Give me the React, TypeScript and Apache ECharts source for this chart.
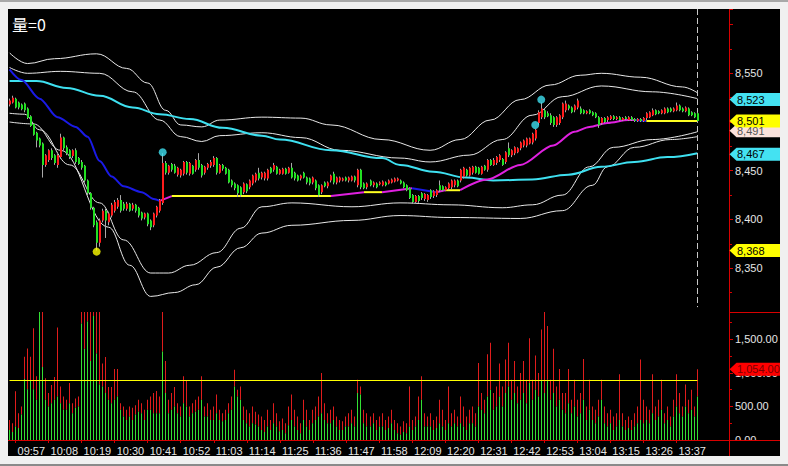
import React, { useEffect, useRef } from 'react';
import * as echarts from 'echarts';

// ---------- categories (one slot per minute) ----------
const startMinute = 9 * 60 + 55;
const slotCount = 240;
const categories: string[] = [];
for (let k = 0; k < slotCount; k++) {
  const t = startMinute + k;
  categories.push(String(Math.floor(t / 60)).padStart(2, '0') + ':' + String(t % 60).padStart(2, '0'));
}
const timeTickLabels = ['09:57', '10:08', '10:19', '10:30', '10:41', '10:52', '11:03', '11:14', '11:25', '11:36', '11:47', '11:58', '12:09', '12:20', '12:31', '12:42', '12:53', '13:04', '13:15', '13:26', '13:37'];
const priceTickLabels = [8350, 8400, 8450, 8550];

// ---------- candles [open, close, low, high] ----------
const candles = [
  [8518, 8522, 8516, 8524], [8520, 8525, 8519, 8527], [8524, 8515, 8514, 8525], [8520, 8515, 8513, 8521], [8518, 8513, 8512, 8519],
  [8519, 8512, 8510, 8520], [8514, 8504, 8503, 8515], [8506, 8496, 8495, 8507], [8498, 8487, 8486, 8499], [8489, 8481, 8474, 8490],
  [8483, 8476, 8474, 8484], [8478, 8456, 8443, 8479], [8456, 8466, 8454, 8467], [8461, 8471, 8459, 8472], [8471, 8463, 8461, 8473],
  [8466, 8458, 8456, 8467], [8456, 8466, 8453, 8467], [8464, 8484, 8462, 8488], [8484, 8473, 8471, 8485], [8474, 8468, 8466, 8476],
  [8471, 8464, 8462, 8472], [8465, 8471, 8463, 8472], [8471, 8459, 8457, 8473], [8463, 8457, 8456, 8464], [8459, 8453, 8451, 8461],
  [8455, 8440, 8438, 8456], [8440, 8427, 8425, 8441], [8427, 8412, 8410, 8428], [8412, 8394, 8392, 8413], [8397, 8376, 8368, 8399],
  [8376, 8399, 8372, 8401], [8399, 8409, 8397, 8411], [8409, 8399, 8381, 8411], [8397, 8406, 8394, 8408], [8404, 8415, 8402, 8417],
  [8409, 8418, 8407, 8420], [8413, 8420, 8411, 8422], [8420, 8409, 8407, 8425], [8416, 8411, 8409, 8418], [8411, 8416, 8409, 8418],
  [8416, 8409, 8408, 8417], [8411, 8415, 8409, 8417], [8415, 8409, 8407, 8416], [8412, 8404, 8402, 8413], [8407, 8401, 8399, 8408],
  [8402, 8406, 8400, 8407], [8406, 8395, 8393, 8407], [8399, 8392, 8389, 8400], [8394, 8406, 8392, 8407], [8404, 8413, 8402, 8414],
  [8409, 8420, 8407, 8421], [8417, 8458, 8415, 8468], [8458, 8448, 8446, 8460], [8448, 8455, 8446, 8456], [8457, 8451, 8449, 8458],
  [8455, 8448, 8447, 8457], [8446, 8453, 8444, 8454], [8445, 8451, 8443, 8452], [8447, 8459, 8445, 8460], [8459, 8448, 8446, 8460],
  [8447, 8458, 8445, 8459], [8455, 8447, 8446, 8456], [8451, 8461, 8449, 8462], [8461, 8453, 8451, 8468], [8456, 8445, 8443, 8457],
  [8448, 8454, 8446, 8455], [8453, 8457, 8451, 8458], [8455, 8459, 8453, 8461], [8456, 8463, 8454, 8465], [8463, 8448, 8446, 8464],
  [8448, 8456, 8447, 8457], [8456, 8452, 8450, 8457], [8453, 8447, 8446, 8454], [8451, 8438, 8437, 8452], [8440, 8435, 8433, 8441],
  [8437, 8432, 8430, 8438], [8435, 8427, 8423, 8436], [8433, 8425, 8423, 8434], [8428, 8437, 8426, 8438], [8436, 8429, 8427, 8437],
  [8433, 8440, 8431, 8441], [8437, 8445, 8435, 8446], [8440, 8447, 8438, 8448], [8448, 8442, 8440, 8453], [8443, 8448, 8441, 8449],
  [8442, 8448, 8440, 8449], [8442, 8451, 8440, 8452], [8453, 8448, 8447, 8454], [8451, 8456, 8449, 8458], [8454, 8447, 8446, 8455],
  [8447, 8451, 8446, 8452], [8447, 8452, 8446, 8453], [8452, 8447, 8446, 8453], [8448, 8453, 8447, 8454], [8453, 8443, 8442, 8458],
  [8448, 8442, 8440, 8449], [8445, 8440, 8439, 8446], [8442, 8445, 8440, 8446], [8448, 8443, 8442, 8449], [8443, 8438, 8436, 8444],
  [8442, 8437, 8435, 8443], [8438, 8443, 8436, 8444], [8440, 8432, 8430, 8441], [8435, 8425, 8423, 8436], [8428, 8435, 8426, 8436],
  [8438, 8434, 8433, 8439], [8434, 8438, 8432, 8439], [8440, 8445, 8438, 8446], [8447, 8438, 8436, 8449], [8438, 8443, 8436, 8444],
  [8440, 8443, 8438, 8444], [8440, 8442, 8439, 8443], [8443, 8440, 8439, 8444], [8440, 8443, 8438, 8444], [8440, 8444, 8439, 8445],
  [8444, 8440, 8438, 8445], [8435, 8451, 8433, 8452], [8451, 8433, 8431, 8452], [8437, 8432, 8431, 8438], [8433, 8437, 8431, 8438],
  [8440, 8435, 8434, 8441], [8435, 8438, 8433, 8439], [8437, 8433, 8432, 8438], [8436, 8438, 8435, 8439], [8435, 8439, 8434, 8440],
  [8438, 8435, 8434, 8439], [8437, 8440, 8436, 8441], [8438, 8441, 8437, 8442], [8439, 8442, 8438, 8443], [8440, 8442, 8439, 8443],
  [8440, 8437, 8436, 8441], [8438, 8433, 8432, 8439], [8435, 8430, 8429, 8436], [8432, 8422, 8421, 8433], [8425, 8418, 8416, 8426],
  [8418, 8424, 8416, 8425], [8424, 8419, 8417, 8425], [8427, 8422, 8420, 8428], [8421, 8426, 8419, 8427], [8420, 8425, 8418, 8426],
  [8430, 8423, 8421, 8431], [8424, 8429, 8422, 8430], [8425, 8430, 8423, 8431], [8435, 8430, 8428, 8440], [8434, 8430, 8429, 8435],
  [8430, 8433, 8429, 8434], [8432, 8437, 8430, 8438], [8433, 8440, 8431, 8441], [8435, 8440, 8433, 8441], [8440, 8434, 8433, 8441],
  [8440, 8451, 8438, 8452], [8444, 8453, 8442, 8454], [8451, 8445, 8444, 8452], [8445, 8453, 8444, 8454], [8448, 8454, 8446, 8455],
  [8454, 8448, 8447, 8455], [8453, 8447, 8446, 8454], [8447, 8454, 8446, 8455], [8455, 8451, 8450, 8456], [8451, 8461, 8449, 8462],
  [8461, 8456, 8455, 8462], [8456, 8461, 8455, 8463], [8458, 8464, 8456, 8465], [8461, 8466, 8459, 8467], [8462, 8456, 8455, 8463],
  [8459, 8469, 8457, 8470], [8473, 8466, 8464, 8479], [8466, 8471, 8464, 8472], [8468, 8474, 8466, 8475], [8469, 8473, 8468, 8474],
  [8473, 8479, 8471, 8480], [8476, 8481, 8474, 8482], [8476, 8483, 8474, 8484], [8478, 8483, 8477, 8484], [8479, 8488, 8477, 8489],
  [8483, 8492, 8481, 8493], [8499, 8510, 8497, 8512], [8505, 8514, 8503, 8520], [8512, 8505, 8503, 8514], [8509, 8506, 8505, 8511],
  [8507, 8499, 8497, 8509], [8505, 8497, 8495, 8506], [8497, 8505, 8495, 8506], [8499, 8507, 8497, 8508], [8505, 8519, 8503, 8520],
  [8512, 8519, 8510, 8522], [8517, 8514, 8512, 8518], [8515, 8510, 8509, 8516], [8512, 8517, 8510, 8518], [8515, 8522, 8513, 8524],
  [8514, 8509, 8508, 8516], [8512, 8509, 8508, 8513], [8509, 8511, 8508, 8512], [8512, 8509, 8508, 8513], [8510, 8507, 8506, 8511],
  [8509, 8505, 8504, 8510], [8505, 8497, 8494, 8506], [8499, 8504, 8497, 8505], [8504, 8500, 8499, 8505], [8502, 8505, 8500, 8506],
  [8503, 8506, 8502, 8507], [8506, 8503, 8502, 8507], [8503, 8505, 8502, 8506], [8505, 8502, 8501, 8506], [8502, 8504, 8501, 8505],
  [8505, 8503, 8502, 8506], [8502, 8505, 8501, 8506], [8505, 8502, 8501, 8506], [8503, 8501, 8500, 8504], [8501, 8503, 8500, 8504],
  [8503, 8501, 8500, 8504], [8501, 8504, 8500, 8505], [8504, 8509, 8502, 8510], [8505, 8510, 8504, 8511], [8507, 8512, 8506, 8514],
  [8512, 8508, 8507, 8513], [8511, 8509, 8508, 8512], [8509, 8512, 8508, 8513], [8509, 8514, 8508, 8515], [8514, 8510, 8509, 8515],
  [8514, 8511, 8510, 8515], [8511, 8514, 8510, 8515], [8512, 8517, 8511, 8520], [8517, 8512, 8511, 8518], [8514, 8511, 8510, 8515],
  [8511, 8515, 8510, 8516], [8514, 8507, 8506, 8515], [8510, 8507, 8506, 8511], [8509, 8505, 8504, 8510], [8509, 8501, 8499, 8510],
];

// ---------- volume (total and the green lower part) ----------
const volTotal = [
  300, 250, 727, 400, 500, 1242, 1364, 1242, 1667, 950,
  2000, 2000, 920, 700, 820, 940, 1680, 800, 650, 600,
  850, 550, 620, 650, 2000, 2000, 2000, 2000, 2000, 2000,
  2000, 1140, 1240, 790, 790, 1060, 1060, 550, 500, 450,
  500, 480, 520, 600, 550, 450, 600, 650, 700, 730,
  650, 2000, 1180, 600, 700, 790, 550, 500, 950, 880,
  500, 550, 600, 650, 950, 500, 550, 450, 500, 680,
  450, 400, 450, 550, 650, 1050, 750, 800, 500, 450,
  400, 500, 420, 380, 350, 300, 450, 300, 550, 400,
  280, 320, 250, 500, 680, 450, 350, 250, 600, 450,
  300, 450, 500, 650, 1000, 550, 400, 450, 500, 350,
  300, 280, 350, 400, 450, 350, 900, 800, 450, 400,
  350, 400, 300, 350, 400, 300, 350, 450, 300, 250,
  200, 280, 250, 800, 300, 350, 650, 950, 400, 350,
  400, 300, 350, 600, 450, 300, 800, 400, 450, 350,
  650, 500, 350, 450, 500, 400, 1150, 700, 600, 1280,
  1450, 700, 800, 1140, 800, 1200, 1450, 900, 1180, 800,
  1000, 1180, 900, 1520, 900, 1260, 1000, 1650, 2000, 1700,
  900, 1360, 800, 1060, 700, 700, 1060, 600, 900, 600,
  700, 1210, 500, 900, 500, 450, 600, 900, 500, 400,
  450, 350, 400, 980, 400, 300, 350, 300, 400, 500,
  1200, 600, 500, 450, 980, 500, 600, 900, 400, 500,
  350, 600, 980, 700, 500, 830, 600, 750, 500, 1054,
];
const volGreen = [
  150, 120, 200, 180, 380, 909, 758, 880, 758, 600,
  2000, 1090, 600, 500, 550, 600, 650, 550, 450, 450,
  550, 400, 480, 500, 1740, 1360, 1770, 1180, 1850, 1290,
  830, 800, 700, 600, 550, 600, 650, 450, 350, 300,
  350, 300, 380, 420, 400, 300, 450, 450, 400, 400,
  400, 1320, 700, 400, 450, 500, 400, 350, 550, 500,
  350, 400, 420, 450, 600, 350, 350, 300, 300, 400,
  300, 280, 300, 400, 450, 800, 650, 600, 300, 250,
  200, 250, 230, 200, 150, 120, 200, 150, 250, 200,
  130, 150, 100, 220, 300, 200, 150, 100, 300, 200,
  150, 250, 300, 350, 400, 300, 250, 250, 300, 200,
  150, 150, 200, 200, 250, 200, 700, 680, 250, 200,
  200, 250, 150, 200, 200, 150, 180, 250, 150, 100,
  80, 120, 100, 200, 150, 200, 300, 600, 200, 200,
  200, 150, 180, 250, 200, 150, 250, 200, 250, 200,
  250, 200, 150, 250, 250, 200, 500, 450, 400, 650,
  750, 450, 500, 650, 500, 700, 800, 600, 700, 550,
  600, 700, 550, 850, 600, 750, 650, 900, 700, 900,
  600, 700, 500, 600, 450, 400, 550, 400, 500, 350,
  400, 600, 300, 450, 300, 250, 350, 600, 250, 200,
  250, 150, 200, 300, 200, 150, 180, 150, 200, 250,
  300, 250, 300, 250, 400, 300, 350, 450, 250, 300,
  200, 350, 500, 400, 350, 500, 400, 450, 350, 650,
];
const volAverage = 895;

// ---------- indicator lines [slot, value] ----------
const trendLine = [
  [0, 8554], [4, 8543], [10, 8524], [16, 8505], [22, 8495], [26, 8485], [30, 8460], [34, 8444], [38, 8434], [44, 8428],
  [48, 8421], [50, 8419], [54, 8424], [107, 8424], [118, 8428], [124, 8428], [134, 8432], [142, 8428], [145, 8430],
  [150, 8430], [159, 8441], [170, 8456], [181, 8476], [188, 8490], [193, 8495], [199, 8499], [206, 8502], [208, 8502],
  [212, 8501], [229, 8501],
];
// [from slot, to slot, direction]
const trendSegments: [number, number, string][] = [
  [0, 50, 'down'], [50, 54, 'up'], [54, 107, 'flat'], [107, 118, 'up'], [118, 124, 'flat'], [124, 134, 'up'],
  [134, 142, 'down'], [142, 145, 'up'], [145, 150, 'flat'], [150, 208, 'up'], [208, 212, 'down'], [212, 229, 'flat'],
];
const longAverage = [
  [0, 8542], [9, 8542], [19, 8535], [30, 8527], [41, 8515], [50, 8508], [60, 8503], [71, 8494], [84, 8486], [90, 8482],
  [107, 8471], [124, 8463], [130, 8456], [141, 8449], [152, 8443], [161, 8440], [174, 8441], [186, 8446], [197, 8454],
  [208, 8459], [219, 8464], [229, 8468],
];
const bandUpperOuter = [
  [0, 8571], [6, 8560], [15, 8565], [29, 8570], [39, 8555], [46, 8540], [52, 8512], [57, 8497], [64, 8495], [70, 8502],
  [84, 8505], [97, 8504], [107, 8497], [124, 8482], [140, 8471], [150, 8482], [160, 8502], [170, 8523], [180, 8538],
  [190, 8548], [197, 8550], [210, 8546], [224, 8536], [229, 8530],
];
const bandUpperInner = [
  [0, 8556], [6, 8550], [17, 8552], [30, 8550], [41, 8531], [50, 8502], [57, 8485], [64, 8480], [70, 8486], [84, 8489],
  [97, 8484], [110, 8471], [130, 8463], [140, 8459], [153, 8466], [164, 8482], [174, 8507], [184, 8526], [197, 8537],
  [214, 8531], [229, 8524],
];
const bandLowerInner = [
  [0, 8509], [5, 8508], [10, 8492], [20, 8456], [30, 8417], [38, 8379], [47, 8345], [53, 8345], [60, 8353], [69, 8366],
  [77, 8391], [84, 8413], [94, 8417], [114, 8413], [130, 8417], [147, 8415], [164, 8412], [174, 8415], [184, 8425],
  [193, 8454], [201, 8474], [214, 8482], [229, 8490],
];
const bandLowerOuter = [
  [0, 8500], [8, 8498], [17, 8471], [33, 8392], [40, 8353], [47, 8321], [55, 8325], [62, 8333], [69, 8351], [77, 8371],
  [84, 8386], [94, 8394], [114, 8399], [130, 8404], [147, 8402], [170, 8401], [184, 8409], [194, 8435], [199, 8454],
  [208, 8474], [220, 8482], [229, 8485],
];
const highSignals = [[51, 8469], [175, 8497], [177, 8523]];
const lowSignals = [[29, 8367]];
const lastSlot = 229;

const priceTags = [
  { value: 8523, bg: '#44e2f2', fg: '#000000' },
  { value: 8491, bg: '#fbe2dc', fg: '#555555' },
  { value: 8501, bg: '#ffff00', fg: '#000000' },
  { value: 8467, bg: '#44e2f2', fg: '#000000' },
  { value: 8368, bg: '#ffff00', fg: '#000000' },
];
const volumeTags = [{ value: 1054, bg: '#ff0000', fg: '#7a0000' }];

const RED = '#ff1c1c';
const GREEN = '#22e022';
const VOL_RED = '#e01c1c';
const VOL_GREEN = '#33e033';
const AXIS_RED = '#d80000';
const LABEL = '#e6e6e6';
const FONT = 'Liberation Sans, Arial, sans-serif';
const trendColors: Record<string, string> = { down: '#1a1ae6', up: '#e020e0', flat: '#ffff22' };

const W = 775;
const H = 448;
const GRID_R = 721;
const PRICE_H = 303;
const VOL_BOTTOM = 431;

export default function App() {
  const ref = useRef<HTMLDivElement>(null);
  useEffect(() => {
    document.body.style.background = '#f0f0f0';
    const chart = echarts.init(ref.current!, undefined, { renderer: 'svg' });
    const fmt = (v: number) => v.toLocaleString('en-US');
    const fmt2 = (v: number) => v.toLocaleString('en-US', { minimumFractionDigits: 2, maximumFractionDigits: 2 });
    const isTick = (_i: number, v: string) => timeTickLabels.includes(v);

    const lineSeries = (data: number[][], color: string, width: number, smooth: number | boolean, extra: any = {}) => ({
      type: 'line', xAxisIndex: 0, yAxisIndex: 0, data, showSymbol: false, symbol: 'none', smooth, smoothMonotone: 'x',
      lineStyle: { color, width }, silent: true, z: 3, ...extra,
    });

    const trendSeries = trendSegments.map(([a, b, dir]) =>
      lineSeries(trendLine.filter((p) => p[0] >= a && p[0] <= b), trendColors[dir], 2, 0.3, { z: 4 })
    );

    const option: any = {
      animation: false,
      backgroundColor: '#000000',
      grid: [
        { left: 0, top: 0, width: GRID_R, height: PRICE_H },
        { left: 0, top: PRICE_H, width: GRID_R, height: VOL_BOTTOM - PRICE_H },
      ],
      xAxis: [
        { type: 'category', gridIndex: 0, data: categories, boundaryGap: true, show: false },
        {
          type: 'category', gridIndex: 1, data: categories, boundaryGap: true,
          axisLine: { show: true, lineStyle: { color: AXIS_RED, width: 1 } },
          axisTick: { show: true, interval: isTick, alignWithLabel: true, length: 3, lineStyle: { color: AXIS_RED } },
          axisLabel: { show: true, interval: isTick, color: LABEL, fontSize: 11, fontFamily: FONT, align: 'left', margin: 5, padding: [0, 0, 0, 2] },
          splitLine: { show: false },
        },
      ],
      yAxis: [
        {
          type: 'value', gridIndex: 0, position: 'right', min: 8305, max: 8616, splitNumber: 6,
          axisLine: { show: false },
          axisTick: { show: true, length: 4, lineStyle: { color: AXIS_RED } },
          minorTick: { show: true, splitNumber: 2, length: 3, lineStyle: { color: AXIS_RED } },
          axisLabel: {
            color: LABEL, fontSize: 11, fontFamily: FONT, margin: 6,
            formatter: (v: number) => (priceTickLabels.includes(v) ? fmt(v) : ''),
          },
          splitLine: { show: false },
        },
        {
          type: 'value', gridIndex: 1, position: 'right', min: 0, max: 1910, interval: 500,
          axisLine: { show: false },
          axisTick: { show: true, length: 4, lineStyle: { color: AXIS_RED } },
          minorTick: { show: true, splitNumber: 2, length: 3, lineStyle: { color: AXIS_RED } },
          axisLabel: { color: LABEL, fontSize: 11, fontFamily: FONT, margin: 6, showMaxLabel: false, formatter: (v: number) => (v > 1900 ? '' : fmt2(v)) },
          splitLine: { show: false },
        },
      ],
      series: [
        lineSeries(bandUpperOuter, '#e8e8e8', 1, 0.4),
        lineSeries(bandUpperInner, '#e8e8e8', 1, 0.4),
        lineSeries(bandLowerInner, '#e8e8e8', 1, 0.4),
        lineSeries(bandLowerOuter, '#e8e8e8', 1, 0.4),
        lineSeries(longAverage, '#3ee0f0', 2, 0.4, {
          markLine: {
            silent: true, symbol: ['none', 'none'], label: { show: false },
            lineStyle: { color: '#c8c8c8', type: [6, 3], width: 1 },
            data: [[{ coord: [lastSlot, 8616] }, { coord: [lastSlot, 8310] }]],
          },
        }),
        ...trendSeries,
        {
          type: 'custom', xAxisIndex: 0, yAxisIndex: 0, z: 5,
          data: candles.map((c, i) => [i, c[0], c[1], c[2], c[3]]),
          encode: { x: 0, y: [1, 2, 3, 4] },
          renderItem: (_p: any, api: any) => {
            const i = api.value(0);
            const o = api.value(1), c = api.value(2), l = api.value(3), h = api.value(4);
            const x = api.coord([i, o])[0];
            const yo = api.coord([i, o])[1];
            const yc = api.coord([i, c])[1];
            const yl = api.coord([i, l])[1];
            const yh = api.coord([i, h])[1];
            const xi = Math.floor(x);
            return {
              type: 'group',
              children: [
                { type: 'line', shape: { x1: xi + 0.5, y1: yh, x2: xi + 0.5, y2: yl }, style: { stroke: '#a8a8a8', lineWidth: 1 } },
                {
                  type: 'rect',
                  shape: { x: xi, y: Math.min(yo, yc), width: 2, height: Math.max(1, Math.abs(yo - yc)) },
                  style: { fill: c >= o ? RED : GREEN },
                },
              ],
            };
          },
        },
        {
          type: 'scatter', xAxisIndex: 0, yAxisIndex: 0, data: highSignals, symbolSize: 8,
          itemStyle: { color: '#3ee0f0' }, z: 6, silent: true,
        },
        {
          type: 'scatter', xAxisIndex: 0, yAxisIndex: 0, data: lowSignals, symbolSize: 8,
          itemStyle: { color: '#ffff00' }, z: 6, silent: true,
        },
        {
          type: 'custom', xAxisIndex: 1, yAxisIndex: 1, z: 3, silent: true,
          data: volTotal.map((t, i) => [i, volGreen[i], t]),
          encode: { x: 0, y: [1, 2] },
          renderItem: (p: any, api: any) => {
            const i = api.value(0);
            const g = api.value(1), t = api.value(2);
            const base = api.coord([i, 0]);
            const top = p.coordSys.y;
            const xi = Math.floor(base[0]);
            const yg = Math.max(top, api.coord([i, g])[1]);
            const yt = Math.max(top, api.coord([i, t])[1]);
            return {
              type: 'group',
              children: [
                { type: 'rect', shape: { x: xi, y: yt, width: 1, height: Math.max(0, yg - yt) }, style: { fill: VOL_RED } },
                { type: 'rect', shape: { x: xi, y: yg, width: 1, height: Math.max(0, base[1] - yg) }, style: { fill: VOL_GREEN } },
              ],
            };
          },
        },
        {
          type: 'line', xAxisIndex: 1, yAxisIndex: 1, data: [], silent: true,
          markLine: {
            silent: true, symbol: ['none', 'none'], label: { show: false },
            lineStyle: { color: '#ffff00', type: 'solid', width: 1 },
            data: [[{ coord: [0, volAverage] }, { coord: [lastSlot, volAverage] }]],
          },
        },
      ],
    };
    chart.setOption(option);

    const tag = (y: number, text: string, bg: string, fg: string) => ({
      type: 'group', z: 120,
      children: [
        {
          type: 'polygon', z: 120,
          shape: { points: [[GRID_R + 0.5, y], [GRID_R + 7.5, y - 6.5], [W, y - 6.5], [W, y + 6.5], [GRID_R + 7.5, y + 6.5]] },
          style: { fill: bg },
        },
        {
          type: 'text', z: 121, x: GRID_R + 8, y: y,
          style: { text, fill: fg, font: `11px ${FONT}`, textVerticalAlign: 'middle', verticalAlign: 'middle' },
        },
      ],
    });
    const graphics: any[] = [
      { type: 'text', left: 4, top: 7, z: 100, style: { text: '量=0', fill: '#ffffff', font: '16px "Noto Sans CJK KR", sans-serif' } },
      { type: 'rect', z: 100, shape: { x: GRID_R + 1, y: VOL_BOTTOM + 0.5, width: W - GRID_R, height: H - VOL_BOTTOM }, style: { fill: '#000000' } },
      { type: 'line', z: 101, shape: { x1: GRID_R + 0.5, y1: 0, x2: GRID_R + 0.5, y2: H }, style: { stroke: AXIS_RED, lineWidth: 1 } },
      { type: 'line', z: 101, shape: { x1: GRID_R, y1: PRICE_H + 0.5, x2: W, y2: PRICE_H + 0.5 }, style: { stroke: AXIS_RED, lineWidth: 1 } },
      { type: 'line', z: 101, shape: { x1: 0, y1: VOL_BOTTOM + 0.5, x2: W, y2: VOL_BOTTOM + 0.5 }, style: { stroke: AXIS_RED, lineWidth: 1 } },
    ];
    priceTags.forEach((t) => {
      const y = chart.convertToPixel({ yAxisIndex: 0 }, t.value) as number;
      graphics.push(tag(y, fmt(t.value), t.bg, t.fg));
    });
    volumeTags.forEach((t) => {
      const y = chart.convertToPixel({ yAxisIndex: 1 }, t.value) as number;
      graphics.push(tag(y, fmt2(t.value), t.bg, t.fg));
    });
    chart.setOption({ graphic: graphics });

    return () => chart.dispose();
  }, []);

  return (
    <div>
      <div style={{ position: 'fixed', left: 0, top: 0, width: 788, height: 2, background: '#a8a8a8' }} />
      <div style={{ position: 'fixed', left: 0, top: 464, width: 788, height: 2, background: '#8a8a8a' }} />
      <div ref={ref} style={{ position: 'relative', top: 1, width: W, height: H, background: '#000' }} />
    </div>
  );
}
